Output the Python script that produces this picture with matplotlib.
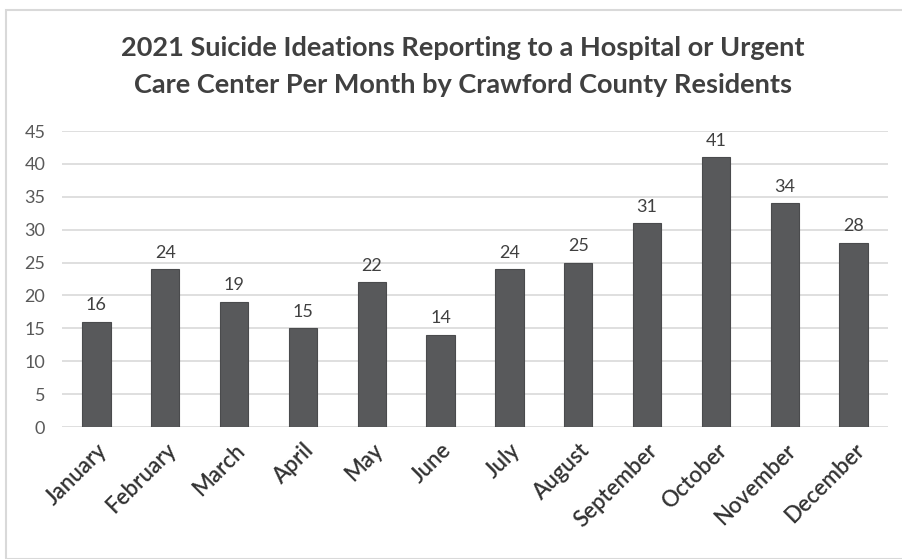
import matplotlib.pyplot as plt
from matplotlib.patches import Rectangle

months = ["January", "February", "March", "April", "May", "June",
          "July", "August", "September", "October", "November", "December"]
counts = [16, 24, 19, 15, 22, 14, 24, 25, 31, 41, 34, 28]
yticks = [0, 5, 10, 15, 20, 25, 30, 35, 40, 45]

plt.rcParams['font.family'] = ['Lato', 'DejaVu Sans']

fig = plt.figure(figsize=(9.02, 5.59), dpi=100)
fig.patches.append(Rectangle((6/902, 0), 1, 1 - 10/559, transform=fig.transFigure,
                             fill=False, edgecolor='#d9d9d9', linewidth=1.5))

ax = fig.add_axes([62/902, 1 - 427/559, 826/902, 296/559])
x = range(len(months))
bars = ax.bar(x, counts, width=0.41, color='#58595b', edgecolor='#4a4b4d',
              linewidth=0.8, zorder=3)
for xi, v in zip(x, counts):
    ax.text(xi, v + 1.3, str(v), ha='center', va='bottom', fontsize=13,
            color='#404040', zorder=4)

ax.set_xlim(-0.5, len(months) - 0.5)
ax.set_ylim(0, 45)
ax.set_yticks(yticks)
ax.yaxis.grid(True, color='#d9d9d9', linewidth=1.2, zorder=0)
ax.set_axisbelow(True)
for s in ax.spines.values():
    s.set_visible(False)
ax.tick_params(axis='y', length=0, labelsize=13, labelcolor='#595959', pad=12)
ax.tick_params(axis='x', length=0, pad=9)
ax.set_xticks(list(x))
ax.set_xticklabels(months, rotation=45, ha='right', rotation_mode='anchor',
                   fontsize=16, color='#333333', fontweight='semibold')

fig.text(0.513, 1 - 48/559, "2021 Suicide Ideations Reporting to a Hospital or Urgent",
         ha='center', va='center', fontsize=19.5, fontweight='bold', color='#404040')
fig.text(0.513, 1 - 85/559, "Care Center Per Month by Crawford County Residents",
         ha='center', va='center', fontsize=19.5, fontweight='bold', color='#404040')

fig.savefig("out.png", dpi=100)
